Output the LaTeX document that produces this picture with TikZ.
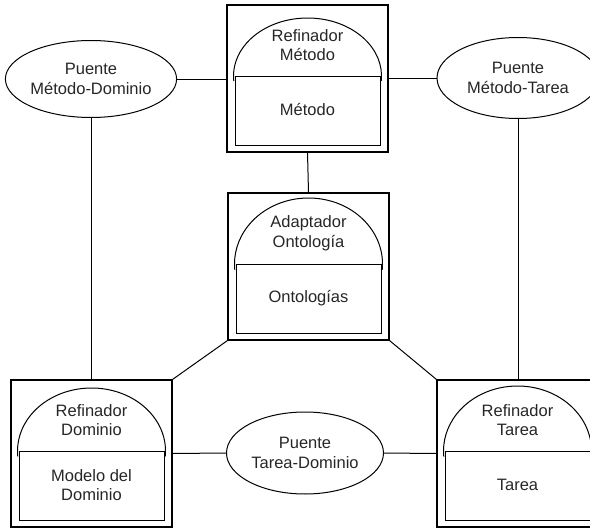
\documentclass[tikz,border=0pt]{standalone}
\usepackage{fontspec}
\setmainfont{Liberation Sans}
\usetikzlibrary{shapes.geometric,calc}
\tikzset{
  outerbox/.style={draw, rectangle, minimum width=161pt, minimum height=147pt, inner sep=0pt, line width=1.1pt},
  part/.style={line width=1pt},
  lbl/.style={align=center, font=\fontsize{16.5}{19.5}\selectfont, text=black!85, inner sep=0pt},
  bridge/.style={draw, ellipse, line width=1pt, inner sep=0pt, align=center, font=\fontsize{16.5}{19.5}\selectfont, text=black!85},
  link/.style={line width=1pt}
}
\newcommand\kbox[6]{%
  \node[outerbox] (#1) at ({#2},{-(#3+73.5)}) {};
  \draw[part] ({#2-72.5},{-(#3+71)}) rectangle ({#2+72.5},{-(#3+140)});
  \draw[part] ({#2},{-(#3+71)}) ++(-5:74pt and #4pt) arc[start angle=-5, end angle=185, x radius=74pt, y radius=#4pt];
  \node[lbl] (#1u) at ({#2},{-(#3+40)}) {#5};
  \node[lbl] (#1l) at ({#2},{-(#3+105)}) {#6};
}
\begin{document}
\begin{tikzpicture}[x=1pt,y=1pt]
\useasboundingbox (0,0) rectangle (590,-530);
\clip (0,0) rectangle (590,-530);
\kbox{rm}{307.5}{5}{58}{Refinador\\Método}{Método}
\kbox{ao}{308.5}{193}{66}{Adaptador\\Ontología}{Ontologías}
\kbox{rd}{91.5}{380}{63}{Refinador\\Dominio}{Modelo del\\Dominio}
\kbox{rt}{517.5}{380}{65}{Refinador\\Tarea}{Tarea}
\node[bridge, minimum width=164pt, minimum height=77pt] (pmd) at (91,-79) {Puente\\Método-Dominio};
\node[bridge, minimum width=162pt, minimum height=81pt] (pmt) at (518,-78) {Puente\\Método-Tarea};
\node[bridge, minimum width=157pt, minimum height=82pt] (ptd) at (305,-453) {Puente\\Tarea-Dominio};
\draw[link] (pmd.east) -- (pmd.east -| rm.west);
\draw[link] (pmt.west) -- (pmt.west -| rm.east);
\draw[link] (rm.south) -- (ao.north);
\draw[link] (pmd.south) -- (pmd.south |- rd.north);
\draw[link] (pmt.south) -- (pmt.south |- rt.north);
\draw[link] (ao.south west) -- (rd.north east);
\draw[link] (ao.south east) -- (rt.north west);
\draw[link] (rd.east) -- (ptd.west);
\draw[link] (ptd.east) -- (rt.west);
\end{tikzpicture}
\end{document}
